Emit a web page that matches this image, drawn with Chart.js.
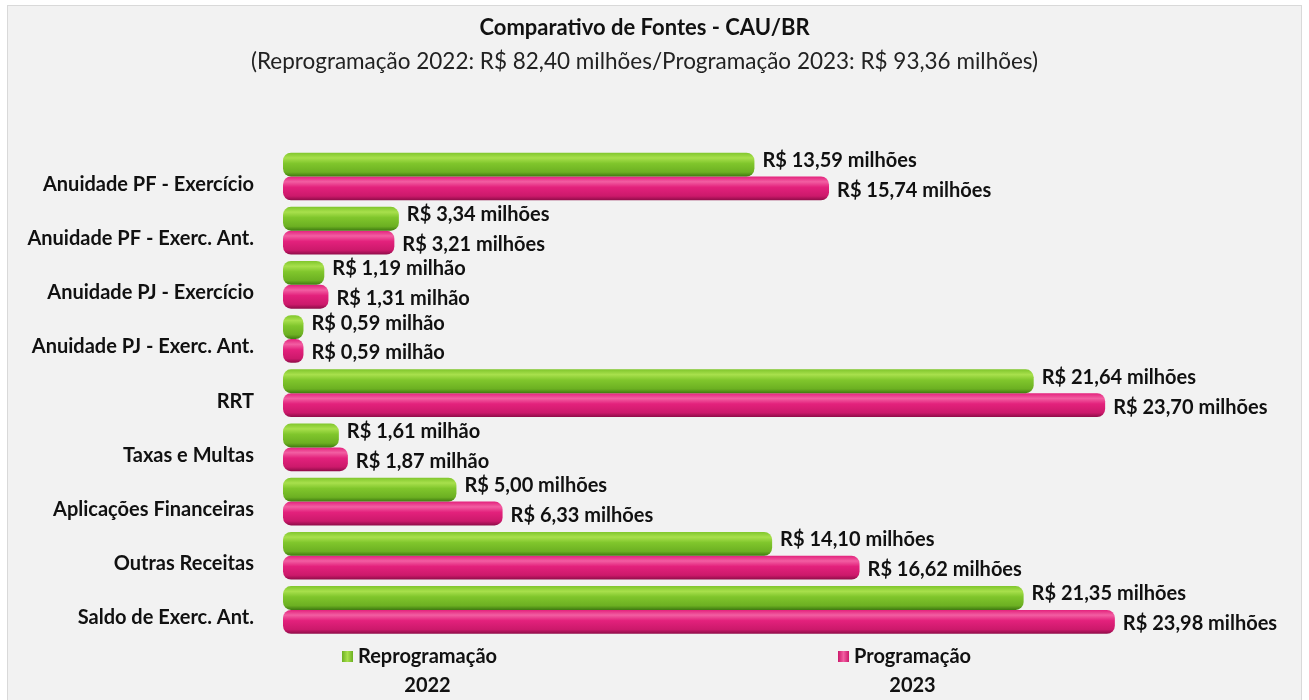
<!DOCTYPE html>
<html>
<head>
<meta charset="utf-8">
<script src="https://cdn.jsdelivr.net/npm/chart.js@4/dist/chart.umd.min.js"></script>
<style>
  html, body { margin: 0; padding: 0; background: #fff; }
  #panel {
    position: absolute; left: 7px; top: 5px; width: 1295px; height: 700px;
    background: #f2f2f2; border: 1px solid #d9d9d9; box-sizing: border-box;
  }
  #wrap { position: absolute; left: 0; top: 0; width: 1309px; height: 700px; }
</style>
</head>
<body>
<div id="panel"></div>
<div id="wrap"><canvas id="chart"></canvas></div>
<script>
const categories = [
  'Anuidade PF - Exercício',
  'Anuidade PF - Exerc. Ant.',
  'Anuidade PJ - Exercício',
  'Anuidade PJ - Exerc. Ant.',
  'RRT',
  'Taxas e Multas',
  'Aplicações Financeiras',
  'Outras Receitas',
  'Saldo de Exerc. Ant.'
];
const reprog2022 = [13.59, 3.34, 1.19, 0.59, 21.64, 1.61, 5.00, 14.10, 21.35];
const prog2023 = [15.74, 3.21, 1.31, 0.59, 23.70, 1.87, 6.33, 16.62, 23.98];
const seriesNames = ['Reprogramação', 'Programação'];
const seriesYears = ['2022', '2023'];

const FONT = 'Lato, "Open Sans", sans-serif';
const CAT_PCT = 0.88;

const palettes = [
  ['#a8e04c', '#80c62c', '#6cb022', '#3f7a10'],
  ['#f25ea2', '#e3217c', '#cc196b', '#8e0c48']
];

function barFill(ctx) {
  const chart = ctx.chart;
  const p = palettes[ctx.datasetIndex];
  if (!chart.chartArea) return p[1];
  const yScale = chart.scales.y;
  const center = yScale.getPixelForValue(ctx.dataIndex);
  const catH = yScale.height / categories.length;
  const h = catH * CAT_PCT / 2;
  const top = ctx.datasetIndex === 0 ? center - h : center;
  const g = chart.ctx.createLinearGradient(0, top, 0, top + h);
  g.addColorStop(0, p[1]);
  g.addColorStop(0.22, p[0]);
  g.addColorStop(0.45, p[1]);
  g.addColorStop(0.82, p[2]);
  g.addColorStop(1, p[3]);
  return g;
}

function fmt(v) {
  return 'R$ ' + v.toFixed(2).replace('.', ',') + (v < 2 ? ' milhão' : ' milhões');
}

const labelPlugin = {
  id: 'valueLabels',
  afterDatasetsDraw(chart) {
    const c = chart.ctx;
    c.save();
    c.font = 'bold 20px ' + FONT;
    c.fillStyle = '#111';
    c.textBaseline = 'middle';
    c.textAlign = 'left';
    chart.data.datasets.forEach((ds, di) => {
      chart.getDatasetMeta(di).data.forEach((bar, i) => {
        const dy = di === 0 ? -4 : 2;
        c.fillText(fmt(ds.data[i]), bar.x + 8, bar.y + dy);
      });
    });
    c.restore();
  }
};

const legendPlugin = {
  id: 'customLegend',
  afterDraw(chart) {
    const c = chart.ctx;
    const spots = [{ x: 342, y: 657 }, { x: 838, y: 657 }];
    c.save();
    c.font = 'bold 20px ' + FONT;
    c.textBaseline = 'middle';
    spots.forEach((s, i) => {
      const p = palettes[i];
      const g = c.createLinearGradient(s.x, 0, s.x + 11, 0);
      g.addColorStop(0, p[2]);
      g.addColorStop(0.5, p[0]);
      g.addColorStop(1, p[2]);
      c.fillStyle = g;
      c.fillRect(s.x, s.y - 6, 11, 11);
      c.fillStyle = '#111';
      c.textAlign = 'left';
      const name = seriesNames[i];
      c.fillText(name, s.x + 16, s.y);
      const w = c.measureText(name).width;
      c.textAlign = 'center';
      c.fillText(seriesYears[i], s.x + 16 + w / 2, s.y + 29);
    });
    c.restore();
  }
};

new Chart(document.getElementById('chart'), {
  type: 'bar',
  data: {
    labels: categories,
    datasets: [
      { label: seriesNames[0], data: reprog2022, backgroundColor: barFill,
        borderRadius: 8, borderSkipped: false, barPercentage: 1, categoryPercentage: CAT_PCT },
      { label: seriesNames[1], data: prog2023, backgroundColor: barFill,
        borderRadius: 8, borderSkipped: false, barPercentage: 1, categoryPercentage: CAT_PCT }
    ]
  },
  options: {
    indexAxis: 'y',
    responsive: true,
    maintainAspectRatio: false,
    animation: false,
    layout: { padding: { left: 0, right: 20, top: 0, bottom: 63 } },
    plugins: {
      legend: { display: false },
      tooltip: { enabled: false },
      title: {
        display: true,
        text: 'Comparativo de Fontes - CAU/BR',
        color: '#111',
        font: { family: FONT, size: 22, weight: 'bold' },
        padding: { top: 15, bottom: 7 }
      },
      subtitle: {
        display: true,
        text: '(Reprogramação 2022: R$ 82,40 milhões/Programação 2023: R$ 93,36 milhões)',
        color: '#222',
        font: { family: FONT, size: 22.5 },
        padding: { top: 0, bottom: 74 }
      }
    },
    scales: {
      x: { display: false, min: 0, max: 29 },
      y: {
        grid: { display: false },
        border: { display: false },
        ticks: {
          color: '#111',
          padding: 21,
          labelOffset: 8,
          font: { family: FONT, size: 20, weight: 'bold' }
        },
        afterFit(scale) { scale.width = 283; }
      }
    }
  },
  plugins: [labelPlugin, legendPlugin]
});
</script>
</body>
</html>
